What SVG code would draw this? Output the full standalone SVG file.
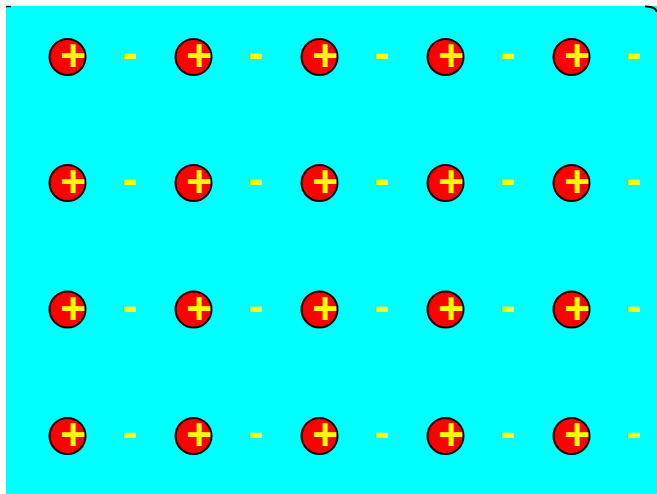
<svg xmlns="http://www.w3.org/2000/svg" width="657" height="494" viewBox="0 0 657 494">
<style>
.c{fill:#ff0000;stroke:#000;stroke-width:2}
.p{fill:#ffff00;font-family:"Liberation Sans",Arial,sans-serif;font-weight:bold;font-size:44px;text-anchor:middle}
.m{fill:#ffff00;font-family:"Liberation Sans",Arial,sans-serif;font-weight:bold;font-size:44px;text-anchor:middle}
</style>
<rect x="0" y="0" width="657" height="494" fill="#ffffff"/>
<rect x="6" y="6" width="651" height="488" fill="#00ffff"/>
<path d="M6,6.5 L11,6.5" stroke="#000" stroke-width="1.5" fill="none"/>
<path d="M645,6.5 Q656,6.5 656.5,12" stroke="#000" stroke-width="2" fill="none"/>
<g id="row1">
<g id="n1"><circle class="c" cx="67.5" cy="57" r="18"/><text class="p" x="73" y="71">+</text></g>
<g id="n2"><circle class="c" cx="193.5" cy="57" r="18"/><text class="p" x="199" y="71">+</text></g>
<g id="n3"><circle class="c" cx="319.5" cy="57" r="18"/><text class="p" x="325" y="71">+</text></g>
<g id="n4"><circle class="c" cx="445.5" cy="57" r="18"/><text class="p" x="451" y="71">+</text></g>
<g id="n5"><circle class="c" cx="571.5" cy="57" r="18"/><text class="p" x="577" y="71">+</text></g>
<text class="m" x="129.5" y="68">-</text><text class="m" x="255.5" y="68">-</text><text class="m" x="381.5" y="68">-</text><text class="m" x="507.5" y="68">-</text><text class="m" x="633.5" y="68">-</text>
</g>
<g id="row2">
<g id="n6"><circle class="c" cx="67.5" cy="183" r="18"/><text class="p" x="73" y="197">+</text></g>
<g id="n7"><circle class="c" cx="193.5" cy="183" r="18"/><text class="p" x="199" y="197">+</text></g>
<g id="n8"><circle class="c" cx="319.5" cy="183" r="18"/><text class="p" x="325" y="197">+</text></g>
<g id="n9"><circle class="c" cx="445.5" cy="183" r="18"/><text class="p" x="451" y="197">+</text></g>
<g id="n10"><circle class="c" cx="571.5" cy="183" r="18"/><text class="p" x="577" y="197">+</text></g>
<text class="m" x="129.5" y="194">-</text><text class="m" x="255.5" y="194">-</text><text class="m" x="381.5" y="194">-</text><text class="m" x="507.5" y="194">-</text><text class="m" x="633.5" y="194">-</text>
</g>
<g id="row3">
<g id="n11"><circle class="c" cx="67.5" cy="309.5" r="18"/><text class="p" x="73" y="323.5">+</text></g>
<g id="n12"><circle class="c" cx="193.5" cy="309.5" r="18"/><text class="p" x="199" y="323.5">+</text></g>
<g id="n13"><circle class="c" cx="319.5" cy="309.5" r="18"/><text class="p" x="325" y="323.5">+</text></g>
<g id="n14"><circle class="c" cx="445.5" cy="309.5" r="18"/><text class="p" x="451" y="323.5">+</text></g>
<g id="n15"><circle class="c" cx="571.5" cy="309.5" r="18"/><text class="p" x="577" y="323.5">+</text></g>
<text class="m" x="129.5" y="320.5">-</text><text class="m" x="255.5" y="320.5">-</text><text class="m" x="381.5" y="320.5">-</text><text class="m" x="507.5" y="320.5">-</text><text class="m" x="633.5" y="320.5">-</text>
</g>
<g id="row4">
<g id="n16"><circle class="c" cx="67.5" cy="436" r="18"/><text class="p" x="73" y="450">+</text></g>
<g id="n17"><circle class="c" cx="193.5" cy="436" r="18"/><text class="p" x="199" y="450">+</text></g>
<g id="n18"><circle class="c" cx="319.5" cy="436" r="18"/><text class="p" x="325" y="450">+</text></g>
<g id="n19"><circle class="c" cx="445.5" cy="436" r="18"/><text class="p" x="451" y="450">+</text></g>
<g id="n20"><circle class="c" cx="571.5" cy="436" r="18"/><text class="p" x="577" y="450">+</text></g>
<text class="m" x="129.5" y="447">-</text><text class="m" x="255.5" y="447">-</text><text class="m" x="381.5" y="447">-</text><text class="m" x="507.5" y="447">-</text><text class="m" x="633.5" y="447">-</text>
</g>
</svg>
